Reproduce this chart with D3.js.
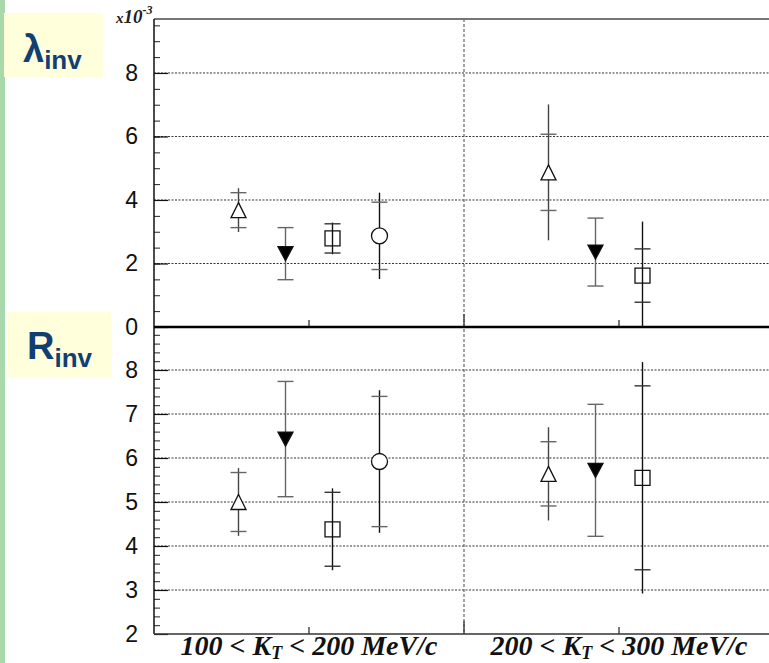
<!DOCTYPE html>
<html>
<head>
<meta charset="utf-8">
<script src="https://cdn.jsdelivr.net/npm/d3@7"></script>
<style>
  html, body { margin: 0; padding: 0; background: #fff; }
  svg { display: block; }
</style>
</head>
<body>
<svg id="chart" width="769" height="663"></svg>
<script>
// Two K_T bins, four particle-pair samples per bin (circle only in the first bin)
const groupLabels = [
  ["100 < K", "T", " < 200 MeV/c"],
  ["200 < K", "T", " < 300 MeV/c"]
];
const seriesKeys = ["openTriangleUp", "filledTriangleDown", "openSquare", "openCircle"];

// λ_inv (×10^-3): value, inner (statistical) and outer (total) half-errors, [series][bin]
const lambdaVal  = [[3.68, 4.87], [2.31, 2.36], [2.79, 1.62], [2.87, null]];
const lambdaStat = [[0.55, 1.20], [0.82, 1.07], [0.46, 0.84], [1.06, null]];
const lambdaSys  = [[0.69, 2.14], [0.82, 1.07], [0.50, 1.70], [1.36, null]];

// R_inv (fm)
const rinvVal  = [[5.00, 5.64], [6.43, 5.72], [4.38, 5.55], [5.92, null]];
const rinvStat = [[0.67, 0.73], [1.31, 1.50], [0.84, 2.09], [1.48, null]];
const rinvSys  = [[0.77, 1.06], [1.31, 1.50], [0.93, 2.63], [1.62, null]];

const lambdaMajor = [0, 2, 4, 6, 8];
const rinvMajor = [2, 3, 4, 5, 6, 7, 8];

const svg = d3.select("#chart");
const W = 769, H = 663;
const plotLeft = 154, plotRight = 774, plotTop = 19, plotMid = 327, plotBottom = 634;

// x: two category bins on a continuous axis
const x = d3.scaleLinear().domain([0, 2]).range([plotLeft, plotRight]);
const inner = d3.scalePoint().domain(seriesKeys).range([-70.5, 70.5]);

const yL = d3.scaleLinear().domain([0, 9.7]).range([plotMid, plotTop]);
const yR = d3.scaleLinear().domain([2, 9]).range([plotBottom, plotMid - 1]);

// left decoration strip and panel labels
svg.append("rect").attr("x", 0).attr("y", 0).attr("width", 5).attr("height", H).attr("fill", "#a9d8ad");
svg.append("rect").attr("x", 4).attr("y", 13).attr("width", 99).attr("height", 64).attr("fill", "#ffffdc");
svg.append("rect").attr("x", 8).attr("y", 312).attr("width", 103).attr("height", 65).attr("fill", "#ffffdc");

const navy = "#123f73";
const lt = svg.append("text").attr("x", 23).attr("y", 62)
  .attr("font-family", "Liberation Sans, Arial, sans-serif").attr("font-weight", "bold").attr("fill", navy);
lt.append("tspan").attr("font-size", 38).text("λ");
lt.append("tspan").attr("font-size", 26).attr("dy", 7).text("inv");

const rt = svg.append("text").attr("x", 27).attr("y", 359)
  .attr("font-family", "Liberation Sans, Arial, sans-serif").attr("font-weight", "bold").attr("fill", navy);
rt.append("tspan").attr("font-size", 38).text("R");
rt.append("tspan").attr("font-size", 26).attr("dy", 8).text("inv");

// horizontal dotted grid lines
function grid(scale, values) {
  svg.append("g").selectAll("line").data(values).join("line")
    .attr("x1", plotLeft).attr("x2", W)
    .attr("y1", d => scale(d)).attr("y2", d => scale(d))
    .attr("stroke", "#333").attr("stroke-width", 1).attr("stroke-dasharray", "2,1.5");
}
grid(yL, lambdaMajor.filter(d => d > 0));
grid(yR, rinvMajor.filter(d => d > 2));

// vertical dotted divider between bins
svg.append("line").attr("x1", x(1)).attr("x2", x(1)).attr("y1", plotTop).attr("y2", plotBottom)
  .attr("stroke", "#666").attr("stroke-width", 1.2).attr("stroke-dasharray", "3,2");

// y axes: major ticks with labels, minor ticks
const tickFont = "Liberation Sans, Arial, sans-serif";
function yAxis(scale, major, minorStep, lo, hi) {
  const minor = d3.range(lo, hi + 1e-9, minorStep).map(v => +v.toFixed(2));
  svg.append("g").attr("transform", `translate(${plotLeft},0)`)
    .call(d3.axisLeft(scale).tickValues(minor).tickSize(-6).tickFormat(""))
    .call(g => g.select(".domain").remove())
    .call(g => g.selectAll("line").attr("stroke", "#222"));
  svg.append("g").attr("transform", `translate(${plotLeft},0)`)
    .call(d3.axisLeft(scale).tickValues(major).tickSizeInner(-14).tickSizeOuter(0).tickPadding(16).tickFormat(d3.format("d")))
    .call(g => g.select(".domain").remove())
    .call(g => g.selectAll("line").attr("stroke", "#111").attr("stroke-width", 1.2))
    .call(g => g.selectAll("text").attr("font-family", tickFont).attr("font-size", 23).attr("fill", "#111"));
}
yAxis(yL, lambdaMajor, 0.5, 0, 9.5);
yAxis(yR, rinvMajor, 0.2, 2, 8.8);

// x ticks at bin centres and divider
const centres = [0.5, 1.5];
function xTicks(yPos) {
  svg.append("g").selectAll("line").data(centres).join("line")
    .attr("x1", d => x(d)).attr("x2", d => x(d)).attr("y1", yPos).attr("y2", yPos - 7)
    .attr("stroke", "#222").attr("stroke-width", 1.2);
  svg.append("line").attr("x1", x(1)).attr("x2", x(1)).attr("y1", yPos).attr("y2", yPos - 13)
    .attr("stroke", "#444").attr("stroke-width", 1.5);
}
xTicks(plotMid);
xTicks(plotBottom);

// frame: top line, left axis, separator at λ=0, bottom axis
svg.append("line").attr("x1", plotLeft).attr("x2", W).attr("y1", plotTop).attr("y2", plotTop)
  .attr("stroke", "#777").attr("stroke-width", 2);
svg.append("line").attr("x1", plotLeft).attr("x2", plotLeft).attr("y1", plotTop).attr("y2", plotBottom)
  .attr("stroke", "#111").attr("stroke-width", 1.5);
svg.append("line").attr("x1", plotLeft).attr("x2", W).attr("y1", plotMid).attr("y2", plotMid)
  .attr("stroke", "#000").attr("stroke-width", 2.5);
svg.append("line").attr("x1", plotLeft).attr("x2", W).attr("y1", plotBottom).attr("y2", plotBottom)
  .attr("stroke", "#333").attr("stroke-width", 1.5);

// exponent label
const ex = svg.append("text").attr("x", 116).attr("y", 23)
  .attr("font-family", "Liberation Serif, Times New Roman, serif").attr("font-style", "italic")
  .attr("font-weight", "bold").attr("fill", "#222");
ex.append("tspan").attr("font-size", 15).text("x");
ex.append("tspan").attr("font-size", 19).text("10");
ex.append("tspan").attr("font-size", 12).attr("dy", -9).text("-3");

// bin labels
groupLabels.forEach((parts, i) => {
  const t = svg.append("text").attr("x", x(centres[i])).attr("y", 655).attr("text-anchor", "middle")
    .attr("font-family", "Liberation Serif, Times New Roman, serif").attr("font-style", "italic")
    .attr("font-weight", "bold").attr("font-size", 28).attr("fill", "#111");
  t.append("tspan").text(parts[0]);
  t.append("tspan").attr("font-size", 18).attr("dy", 4).text(parts[1]);
  t.append("tspan").attr("dy", -4).text(parts[2]);
});

// marker shapes
const markerPath = {
  openTriangleUp: "M0,-7.5L7.5,7.5L-7.5,7.5Z",
  filledTriangleDown: "M-7.5,-7L7.5,-7L0,7Z",
  openSquare: "M-7.5,-7.5L7.5,-7.5L7.5,7.5L-7.5,7.5Z",
  openCircle: null
};
const lineColour = { openTriangleUp: "#444", filledTriangleDown: "#666", openSquare: "#111", openCircle: "#111" };
const capColour = { openTriangleUp: "#666", filledTriangleDown: "#666", openSquare: "#333", openCircle: "#666" };

function points(scale, vals, stat, sys, lo, hi) {
  const rows = [];
  seriesKeys.forEach((k, s) => {
    vals[s].forEach((v, b) => {
      if (v == null) return;
      rows.push({ key: k, bin: b, v, stat: stat[s][b], sys: sys[s][b] });
    });
  });
  const g = svg.append("g");
  const px = d => x(centres[d.bin]) + inner(d.key);
  // outer error line (clipped to the panel)
  g.selectAll("line.err").data(rows).join("line").attr("class", "err")
    .attr("x1", px).attr("x2", px)
    .attr("y1", d => scale(Math.min(hi, d.v + d.sys)))
    .attr("y2", d => scale(Math.max(lo, d.v - d.sys)))
    .attr("stroke", d => lineColour[d.key]).attr("stroke-width", 1.4);
  // inner error ticks
  const caps = rows.flatMap(d => [d.v + d.stat, d.v - d.stat].map(e => ({ d, e })));
  g.selectAll("line.cap").data(caps).join("line").attr("class", "cap")
    .attr("x1", c => px(c.d) - 8).attr("x2", c => px(c.d) + 8)
    .attr("y1", c => scale(c.e)).attr("y2", c => scale(c.e))
    .attr("stroke", c => capColour[c.d.key]).attr("stroke-width", 1.4);
  // markers
  rows.forEach(d => {
    if (d.key === "openCircle") {
      g.append("circle").attr("cx", px(d)).attr("cy", scale(d.v)).attr("r", 8)
        .attr("fill", "#fff").attr("stroke", "#111").attr("stroke-width", 1.3);
    } else {
      g.append("path").attr("d", markerPath[d.key])
        .attr("transform", `translate(${px(d)},${scale(d.v)})`)
        .attr("fill", d.key === "filledTriangleDown" ? "#000" : (d.key === "openSquare" ? "none" : "#fff"))
        .attr("stroke", "#111").attr("stroke-width", 1.3);
    }
  });
}
points(yL, lambdaVal, lambdaStat, lambdaSys, 0, 9.7);
points(yR, rinvVal, rinvStat, rinvSys, 2, 9);
</script>
</body>
</html>
